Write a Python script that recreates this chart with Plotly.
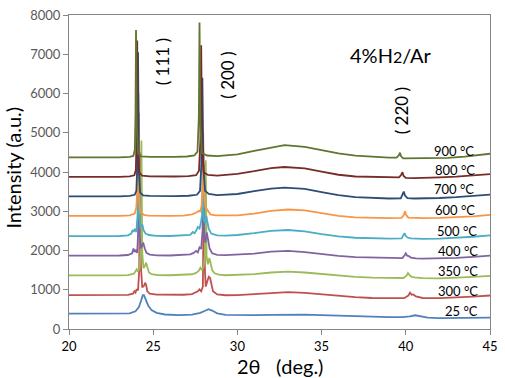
import plotly.graph_objects as go

# ---------------- data ----------------
labels = ["25 °C", "300 °C", "350 °C", "400 °C", "500 °C", "600 °C", "700 °C", "800 °C", "900 °C"]
colors = ["#4F81BD", "#C0504D", "#9BBB59", "#8064A2", "#4BACC6", "#F79646", "#2C4D75", "#772C2A", "#5F7530"]

x25 = [20, 21, 22, 23, 23.6, 23.95, 24.15, 24.28, 24.38, 24.45, 24.55, 24.7, 24.9, 25.2, 25.7, 26.5, 27.3, 27.8, 28.05, 28.28, 28.5, 28.8, 29.3, 30, 31, 32, 33, 34, 35, 36, 37, 38, 39, 39.8, 40.25, 40.55, 40.85, 41.3, 42, 43, 44, 45]
y25 = [390, 388, 386, 388, 400, 450, 560, 720, 860, 860, 760, 600, 480, 410, 370, 355, 365, 410, 460, 505, 470, 400, 360, 350, 352, 360, 368, 365, 355, 340, 325, 312, 305, 305, 320, 350, 325, 290, 278, 276, 280, 288]

x300 = [20, 21, 22, 23, 23.5, 23.8, 23.88, 23.95, 24.02, 24.1, 24.17, 24.22, 24.27, 24.35, 24.45, 24.53, 24.58, 24.65, 24.8, 25.2, 26, 26.8, 27.3, 27.55, 27.65, 27.75, 27.85, 27.95, 28.02, 28.07, 28.12, 28.2, 28.3, 28.38, 28.45, 28.55, 28.8, 29.3, 30, 31, 32, 33, 34, 35, 36, 37, 38, 39, 39.9, 40.15, 40.25, 40.35, 40.45, 40.6, 41, 42, 43, 44, 45]
y300 = [861, 858, 860, 862, 870, 900, 960, 930, 1020, 980, 1500, 4500, 1600, 1060, 1100, 1180, 1120, 960, 900, 875, 868, 872, 890, 930, 960, 1010, 960, 1080, 4200, 1500, 1080, 1200, 1330, 1300, 1150, 960, 880, 860, 865, 890, 925, 940, 920, 880, 840, 810, 790, 780, 785, 850, 925, 870, 880, 830, 790, 785, 800, 825, 853]

x350 = [20, 21, 22, 23, 23.5, 23.85, 23.95, 24.02, 24.1, 24.2, 24.25, 24.3, 24.35, 24.42, 24.5, 24.58, 24.65, 24.75, 24.9, 25.3, 26, 26.8, 27.3, 27.55, 27.7, 27.8, 27.9, 28.0, 28.07, 28.12, 28.17, 28.25, 28.33, 28.4, 28.5, 28.65, 28.9, 29.3, 30, 31, 32, 33, 34, 35, 36, 37, 38, 39, 39.85, 40.05, 40.13, 40.22, 40.35, 40.5, 41, 42, 43, 44, 45]
y350 = [1366, 1363, 1365, 1368, 1375, 1410, 1470, 1520, 1460, 1560, 2000, 4800, 1950, 1550, 1600, 1690, 1580, 1440, 1395, 1375, 1370, 1375, 1395, 1430, 1480, 1560, 1500, 1600, 1900, 4300, 1850, 1650, 1810, 1700, 1500, 1420, 1385, 1370, 1375, 1400, 1440, 1460, 1440, 1400, 1360, 1330, 1310, 1300, 1300, 1360, 1425, 1370, 1330, 1315, 1295, 1292, 1305, 1328, 1352]

x400 = [20, 21, 22, 23, 23.5, 23.75, 23.83, 23.9, 23.97, 24.05, 24.1, 24.15, 24.2, 24.27, 24.35, 24.42, 24.5, 24.6, 24.8, 25.2, 26, 26.8, 27.2, 27.4, 27.55, 27.65, 27.75, 27.85, 27.93, 27.98, 28.03, 28.1, 28.18, 28.25, 28.35, 28.5, 28.8, 29.3, 30, 31, 32, 33, 34, 35, 36, 37, 38, 39, 39.8, 39.93, 40.0, 40.08, 40.18, 40.3, 40.6, 41, 42, 43, 44, 45]
y400 = [1871, 1868, 1870, 1872, 1885, 1930, 2050, 1960, 2000, 1940, 2400, 5500, 2400, 2050, 2150, 2180, 2050, 1940, 1895, 1878, 1872, 1880, 1900, 1940, 1990, 1950, 2080, 2040, 2500, 4500, 2350, 2200, 2460, 2300, 2050, 1930, 1890, 1880, 1890, 1920, 1970, 1990, 1960, 1910, 1865, 1830, 1815, 1800, 1805, 1880, 1930, 1870, 1860, 1820, 1800, 1795, 1800, 1812, 1838, 1871]

x500 = [20, 21, 22, 23, 23.5, 23.7, 23.78, 23.85, 23.92, 24.0, 24.07, 24.12, 24.17, 24.23, 24.3, 24.36, 24.43, 24.55, 24.75, 25.2, 26, 26.8, 27.2, 27.35, 27.45, 27.55, 27.65, 27.75, 27.82, 27.9, 27.95, 28.0, 28.08, 28.15, 28.22, 28.3, 28.45, 28.8, 29.3, 30, 31, 32, 33, 34, 35, 36, 37, 38, 39, 39.75, 39.85, 39.92, 40.0, 40.1, 40.3, 40.6, 41, 42, 43, 44, 45]
y500 = [2368, 2365, 2367, 2370, 2385, 2430, 2520, 2480, 2550, 2470, 2900, 6000, 2950, 2600, 2620, 2660, 2520, 2430, 2395, 2375, 2370, 2378, 2400, 2470, 2440, 2500, 2600, 2560, 2680, 2900, 4800, 2800, 2700, 2880, 2760, 2550, 2430, 2385, 2380, 2395, 2440, 2500, 2522, 2490, 2420, 2360, 2325, 2310, 2305, 2310, 2380, 2440, 2370, 2330, 2310, 2300, 2298, 2305, 2322, 2350, 2385]

x600 = [20, 21, 22, 23, 23.6, 23.9, 24.0, 24.05, 24.1, 24.15, 24.22, 24.3, 24.45, 24.7, 25.2, 26, 26.8, 27.3, 27.55, 27.7, 27.8, 27.88, 27.93, 27.97, 28.02, 28.1, 28.2, 28.28, 28.4, 28.7, 29.3, 30, 31, 32, 33, 34, 35, 36, 37, 38, 39, 39.75, 39.88, 39.95, 40.03, 40.15, 40.4, 41, 42, 43, 44, 45]
y600 = [2881, 2878, 2880, 2883, 2895, 2940, 3100, 3500, 6300, 3400, 2980, 2950, 2910, 2890, 2882, 2880, 2890, 2920, 2960, 3005, 3000, 3150, 3600, 5000, 3500, 3100, 3047, 2980, 2920, 2895, 2890, 2895, 2940, 3010, 3045, 3020, 2950, 2880, 2845, 2830, 2825, 2830, 2900, 3000, 2900, 2840, 2830, 2825, 2830, 2845, 2870, 2906]

x700 = [20, 21, 22, 23, 23.6, 23.9, 24.0, 24.05, 24.1, 24.15, 24.22, 24.4, 24.8, 25.5, 26.3, 27.1, 27.6, 27.78, 27.86, 27.92, 27.98, 28.08, 28.3, 28.8, 29.5, 30, 31, 32, 32.8, 34, 35, 36, 37, 38, 39, 39.7, 39.82, 39.88, 39.95, 40.1, 40.5, 41, 42, 43, 44, 45]
y700 = [3378, 3375, 3377, 3380, 3390, 3420, 3520, 4100, 7050, 4000, 3480, 3405, 3390, 3384, 3385, 3395, 3420, 3520, 4200, 6400, 4100, 3520, 3440, 3412, 3420, 3440, 3510, 3575, 3600, 3570, 3490, 3410, 3360, 3335, 3325, 3330, 3420, 3500, 3400, 3335, 3325, 3325, 3338, 3358, 3388, 3422]

x800 = [20, 21, 22, 23, 23.6, 23.88, 23.97, 24.01, 24.05, 24.09, 24.17, 24.35, 24.8, 25.5, 26.3, 27.1, 27.55, 27.72, 27.8, 27.85, 27.9, 28.0, 28.25, 28.8, 29.5, 30, 31, 32, 32.8, 34, 35, 36, 37, 38, 39, 39.6, 39.73, 39.8, 39.87, 40.0, 40.5, 41, 42, 43, 44, 45]
y800 = [3875, 3872, 3874, 3877, 3887, 3915, 4050, 4900, 7350, 4700, 3990, 3905, 3890, 3882, 3885, 3895, 3920, 4030, 4800, 7230, 4700, 3990, 3925, 3909, 3925, 3950, 4020, 4100, 4128, 4095, 4010, 3930, 3885, 3870, 3862, 3865, 3930, 3995, 3900, 3850, 3845, 3848, 3862, 3880, 3908, 3948]

x900 = [20, 21, 22, 23, 23.6, 23.82, 23.91, 23.95, 23.98, 24.02, 24.1, 24.3, 24.8, 25.5, 26.3, 27.0, 27.45, 27.63, 27.71, 27.75, 27.8, 27.9, 28.2, 28.8, 29.5, 30, 31, 32, 32.8, 34, 35, 36, 37, 38, 39, 39.45, 39.58, 39.65, 39.72, 39.85, 40.5, 41.5, 42.5, 43.5, 44.3, 45]
y900 = [4372, 4369, 4371, 4374, 4384, 4410, 4560, 5500, 7620, 5200, 4490, 4400, 4385, 4382, 4385, 4395, 4420, 4520, 5400, 7810, 5200, 4480, 4420, 4405, 4425, 4450, 4540, 4630, 4683, 4640, 4560, 4475, 4415, 4385, 4368, 4365, 4420, 4492, 4400, 4345, 4345, 4345, 4360, 4390, 4420, 4465]

series_x = [x25, x300, x350, x400, x500, x600, x700, x800, x900]
series_y = [y25, y300, y350, y400, y500, y600, y700, y800, y900]

# temperature label anchors (2θ right edge, intensity)
label_x = [44.42, 44.42, 44.42, 44.42, 44.33, 44.2, 44.15, 44.22, 44.18]
label_y = [455, 969, 1483, 1988, 2500, 3023, 3560, 4058, 4547]

peak_labels = ["( 111 )", "( 200 )", "( 220 )"]
peak_x = [25.55, 29.4, 39.76]
peak_y = [6807, 6460, 5565]

x_ticks = [20, 25, 30, 35, 40, 45]
y_ticks = [0, 1000, 2000, 3000, 4000, 5000, 6000, 7000, 8000]

FONT = "Lato, 'Open Sans', 'DejaVu Sans', sans-serif"

fig = go.Figure()
for xs, ys, c, name in zip(series_x, series_y, colors, labels):
    fig.add_trace(go.Scatter(x=xs, y=ys, mode="lines", name=name,
                             line=dict(color=c, width=1.8), showlegend=False,
                             hoverinfo="skip"))

annotations = []
for lx, ly, t in zip(label_x, label_y, labels):
    annotations.append(dict(x=lx, y=ly, xref="x", yref="y", text=t, showarrow=False,
                            xanchor="right", yanchor="middle",
                            font=dict(family=FONT, size=13, color="#000000")))
for px, py, t in zip(peak_x, peak_y, peak_labels):
    annotations.append(dict(x=px, y=py, xref="x", yref="y", text=t, showarrow=False,
                            textangle=-90, xanchor="center", yanchor="middle",
                            font=dict(family=FONT, size=17, color="#000000")))
annotations.append(dict(x=39.13, y=6980, xref="x", yref="y",
                        text="4%H<span style='font-size:16px'>2</span>/Ar",
                        showarrow=False, xanchor="center", yanchor="middle",
                        font=dict(family=FONT, size=20, color="#000000")))
annotations.append(dict(x=-0.133, y=0.514, xref="paper", yref="paper",
                        text="Intensity (a.u.)", textangle=-90, showarrow=False,
                        xanchor="center", yanchor="middle",
                        font=dict(family=FONT, size=20, color="#000000")))
annotations.append(dict(x=0.5, y=-0.117, xref="paper", yref="paper",
                        text="2θ\u00a0\u00a0\u00a0(deg.)", showarrow=False,
                        xanchor="center", yanchor="middle",
                        font=dict(family=FONT, size=20, color="#000000")))

fig.update_layout(
    width=505, height=378,
    margin=dict(l=69, r=8, t=7, b=49, pad=0),
    paper_bgcolor="white", plot_bgcolor="white",
    font=dict(family=FONT),
    annotations=annotations,
    xaxis=dict(range=[20, 45], tickvals=x_ticks, ticks="outside", ticklen=5,
               tickcolor="#868686", showline=True, linecolor="#868686", linewidth=1,
               mirror=True, showgrid=False, zeroline=False, ticklabeloverflow="allow",
               tickfont=dict(family=FONT, size=13, color="#000000")),
    yaxis=dict(range=[0, 8000], tickvals=y_ticks, ticks="outside", ticklen=5,
               tickcolor="#868686", showline=True, linecolor="#868686", linewidth=1,
               mirror=True, showgrid=False, zeroline=False, ticklabeloverflow="allow",
               tickfont=dict(family=FONT, size=13, color="#595959")),
)

fig.write_html("out.html", config={"displayModeBar": False},
               post_script="document.body.style.margin='0';document.body.style.overflow='hidden';")
